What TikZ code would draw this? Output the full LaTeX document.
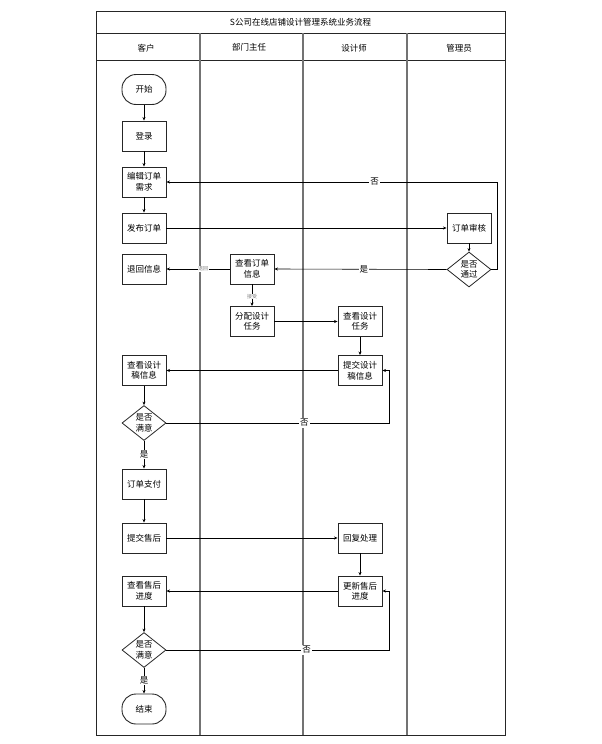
\documentclass[tikz,border=0pt]{standalone}
\usepackage{fontspec}
\setmainfont{Noto Sans CJK SC}
\usetikzlibrary{arrows.meta,shapes.geometric}
\begin{document}
\begin{tikzpicture}[x=1pt,y=-1pt,
  font=\fontsize{8.5}{10.5}\selectfont,
  frame/.style={draw=black!85,line width=1pt},
  lane/.style={draw=black!55,line width=1.5pt},
  box/.style={draw=black!85,line width=0.9pt,minimum width=44pt,minimum height=30pt,inner sep=1pt,align=center},
  term/.style={box,rounded corners=14pt},
  dec/.style={draw=black!85,line width=0.8pt,diamond,minimum width=44pt,minimum height=35pt,inner sep=0pt,align=center},
  arr/.style={-{Stealth[length=3.5pt,width=3pt]},line width=0.6pt},
  lbl/.style={fill=white,inner sep=1pt},
  tinylbl/.style={fill=white,inner sep=0.5pt,font=\fontsize{5}{5.5}\selectfont,text=black!50}]
\useasboundingbox (0,0) rectangle (602,744);
% frame and lanes
\draw[frame] (96,11) rectangle (505,735);
\draw[frame] (96,33) -- (505,33);
\draw[frame] (96,60) -- (505,60);
\draw[lane] (200,33) -- (200,735);
\draw[lane] (303,33) -- (303,735);
\draw[lane] (407,33) -- (407,735);
\node (title) at (300.5,22) {S公司在线店铺设计管理系统业务流程};
\node (h1) at (146,48) {客户};
\node (h2) at (249,47) {部门主任};
\node (h3) at (354,48) {设计师};
\node (h4) at (459,48) {管理员};
% nodes
\node[term] (start) at (144,89.5) {开始};
\node[box] (login) at (144,136) {登录};
\node[box] (edit) at (144,182) {编辑订单\\需求};
\node[box] (publish) at (144,228) {发布订单};
\node[box] (review) at (469,228) {订单审核};
\node[dec] (pass) at (469,269.5) {是否\\通过};
\node[box] (vorder) at (252,269) {查看订单\\信息};
\node[box] (ret) at (144,269) {退回信息};
\node[box] (assign) at (252,321.5) {分配设计\\任务};
\node[box] (vtask) at (360,321.5) {查看设计\\任务};
\node[box] (sdraft) at (360,370.5) {提交设计\\稿信息};
\node[box] (vdraft) at (144,370.5) {查看设计\\稿信息};
\node[dec] (sat1) at (144,423) {是否\\满意};
\node[box] (pay) at (144,484) {订单支付};
\node[box] (after) at (144,538) {提交售后};
\node[box] (reply) at (360,538) {回复处理};
\node[box] (update) at (360,591) {更新售后\\进度};
\node[box] (vprog) at (144,591) {查看售后\\进度};
\node[dec] (sat2) at (144,650) {是否\\满意};
\node[term] (stop) at (144,709) {结束};
% helper coordinates
\coordinate (c1) at (497,269.5);
\coordinate (c2) at (497,182);
\coordinate (c3) at (389,423);
\coordinate (c4) at (389,370.5);
\coordinate (c5) at (389,650);
\coordinate (c6) at (389,591);
% connectors
\draw[arr] (start) -- (login);
\draw[arr] (login) -- (edit);
\draw[arr] (edit) -- (publish);
\draw[arr] (publish) -- (review);
\draw[arr] (review) -- (pass);
\draw[arr] (pass.west) -- node[lbl,pos=0.48] {是} (vorder.east);
\draw[arr] (pass.east) -- (c1) -- (c2) -- node[lbl,pos=0.37] {否} (edit.east);
\draw[arr] (vorder.west) -- node[tinylbl,pos=0.42] {退回} (ret.east);
\draw[arr] (vorder.south) -- node[tinylbl,pos=0.55] {接受} (assign.north);
\draw[arr] (assign) -- (vtask);
\draw[arr] (vtask) -- (sdraft);
\draw[arr] (sdraft) -- (vdraft);
\draw[arr] (vdraft) -- (sat1);
\draw[arr] (sat1.east) -- node[lbl,pos=0.62] {否} (c3) -- (c4) -- (sdraft.east);
\draw[arr] (sat1.south) -- node[lbl,pos=0.5] {是} (pay.north);
\draw[arr] (pay) -- (after);
\draw[arr] (after) -- (reply);
\draw[arr] (reply) -- (update);
\draw[arr] (update) -- (vprog);
\draw[arr] (vprog) -- (sat2);
\draw[arr] (sat2.east) -- node[lbl,pos=0.63] {否} (c5) -- (c6) -- (update.east);
\draw[arr] (sat2.south) -- node[lbl,pos=0.5] {是} (stop.north);
\end{tikzpicture}
\end{document}
